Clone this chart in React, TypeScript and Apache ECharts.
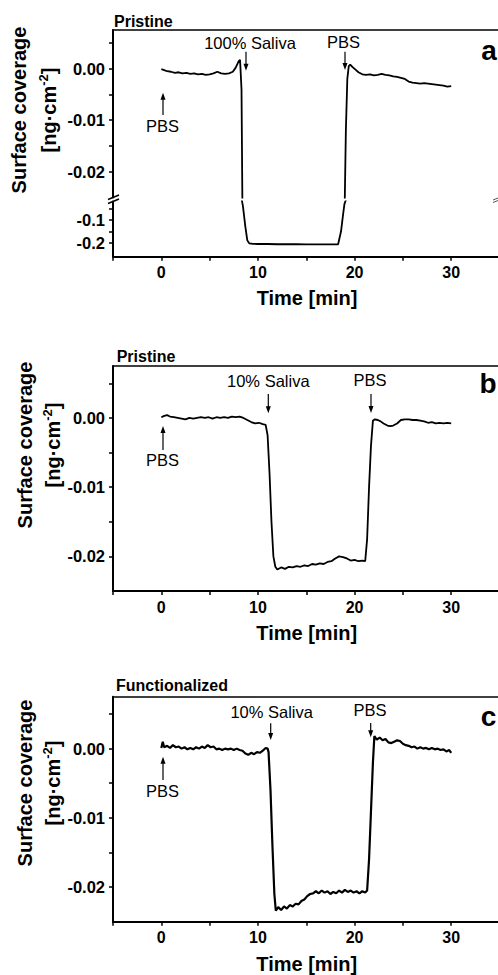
import React, { useEffect, useRef } from 'react';
import * as echarts from 'echarts';

// ---------- data ----------
const timeA = [0.0, 0.3, 0.6, 1.0, 1.4, 1.8, 2.2, 2.6, 3.0, 3.4, 3.8, 4.2, 4.6, 5.0, 5.4, 5.8, 6.2, 6.6, 7.0, 7.4, 7.7, 8.0, 8.15, 8.3, 8.45, 8.7, 8.9, 9.1, 9.5, 10, 11, 12, 13, 14, 15, 16, 17, 18, 18.3, 18.6, 18.8, 18.95, 19.1, 19.25, 19.4, 19.55, 19.8, 20.1, 20.4, 20.8, 21.2, 21.6, 22.0, 22.4, 22.8, 23.2, 23.6, 24.0, 24.4, 24.8, 25.2, 25.6, 26.0, 26.4, 26.8, 27.2, 27.6, 28.0, 28.4, 28.8, 29.2, 29.6, 30.0];
const coverageA = [-0.0001, -0.0003, -0.0005, -0.0006, -0.0008, -0.0007, -0.0009, -0.0008, -0.001, -0.0009, -0.0011, -0.001, -0.0012, -0.0011, -0.0009, -0.0006, -0.0009, -0.001, -0.0009, -0.0006, 0.0002, 0.0014, 0.0017, -0.004, -0.04, -0.13, -0.19, -0.203, -0.205, -0.206, -0.206, -0.207, -0.207, -0.207, -0.208, -0.208, -0.208, -0.208, -0.207, -0.15, -0.08, -0.03, -0.012, -0.002, 0.0005, 0.0008, 0.0003, -0.0002, -0.0007, -0.0011, -0.0012, -0.0011, -0.0013, -0.0012, -0.001, -0.0012, -0.0013, -0.0015, -0.0016, -0.0018, -0.002, -0.0025, -0.0027, -0.0028, -0.0029, -0.0028, -0.0029, -0.003, -0.0031, -0.0032, -0.0033, -0.0035, -0.0034];

const timeB = [0.0, 0.3, 0.6, 0.9, 1.3, 1.7, 2.1, 2.5, 2.9, 3.3, 3.7, 4.1, 4.5, 4.9, 5.3, 5.7, 6.1, 6.5, 6.9, 7.3, 7.7, 8.1, 8.5, 8.9, 9.3, 9.7, 10.1, 10.5, 10.8, 11.0, 11.2, 11.4, 11.6, 11.8, 12.0, 12.4, 12.8, 13.2, 13.6, 14.0, 14.4, 14.8, 15.2, 15.6, 16.0, 16.4, 16.8, 17.2, 17.6, 18.0, 18.4, 18.8, 19.2, 19.6, 20.0, 20.4, 20.8, 21.1, 21.3, 21.5, 21.7, 21.9, 22.1, 22.4, 22.7, 23.0, 23.4, 23.7, 24.0, 24.4, 24.8, 25.2, 25.6, 26.0, 26.4, 26.8, 27.2, 27.6, 28.0, 28.4, 28.8, 29.2, 29.6, 30.0];
const coverageB = [0.0001, 0.0003, 0.0004, 0.0002, 0.0001, 0.0, -0.0001, -0.0002, 0.0, -0.0001, 0.0, 0.0001, 0.0, 0.0001, -0.0001, 0.0001, 0.0, 0.0001, 0.0, 0.0002, 0.0001, 0.0002, 0.0, -0.0003, -0.0006, -0.0008, -0.0007, -0.0009, -0.001, -0.0025, -0.008, -0.015, -0.02, -0.0215, -0.0219, -0.0216, -0.0218, -0.0215, -0.0216, -0.0214, -0.0215, -0.0213, -0.0214, -0.0211, -0.0212, -0.021, -0.0211, -0.0208, -0.0207, -0.0203, -0.02, -0.0201, -0.0203, -0.0206, -0.0205, -0.0207, -0.0206, -0.0207, -0.0175, -0.01, -0.004, -0.0004, -0.0002, -0.0003, -0.0005, -0.0008, -0.0011, -0.0012, -0.0011, -0.0008, -0.0003, -0.0002, -0.0002, -0.0003, -0.0003, -0.0004, -0.0005, -0.0007, -0.0006, -0.0008, -0.0007, -0.0008, -0.0007, -0.0008];

const timeC = [0.0, 0.15, 0.3, 0.6, 0.9, 1.2, 1.5, 1.8, 2.1, 2.4, 2.7, 3.0, 3.3, 3.6, 3.9, 4.2, 4.5, 4.8, 5.1, 5.4, 5.7, 6.0, 6.3, 6.6, 6.9, 7.2, 7.5, 7.8, 8.1, 8.4, 8.7, 9.0, 9.3, 9.6, 9.9, 10.2, 10.5, 10.8, 11.0, 11.1, 11.3, 11.5, 11.7, 11.85, 12.1, 12.4, 12.7, 13.0, 13.3, 13.6, 13.9, 14.2, 14.5, 14.8, 15.1, 15.4, 15.7, 16.0, 16.3, 16.6, 16.9, 17.2, 17.5, 17.8, 18.1, 18.4, 18.7, 19.0, 19.3, 19.6, 19.9, 20.2, 20.5, 20.8, 21.1, 21.3, 21.5, 21.7, 21.9, 22.05, 22.3, 22.6, 22.9, 23.2, 23.5, 23.8, 24.1, 24.4, 24.7, 25.0, 25.3, 25.6, 25.9, 26.2, 26.5, 26.8, 27.1, 27.4, 27.7, 28.0, 28.3, 28.6, 28.9, 29.2, 29.5, 29.8, 30.0];
const coverageC = [0.0001, 0.001, 0.0002, 0.0004, 0.0001, 0.0005, 0.0002, 0.0003, 0.0, 0.0002, -0.0001, 0.0001, -0.0001, 0.0002, 0.0, 0.0003, 0.0001, 0.0005, 0.0002, 0.0003, -0.0001, 0.0, -0.0002, 0.0, -0.0001, 0.0, -0.0002, 0.0, -0.0002, -0.0003, -0.0007, -0.0009, -0.0006, -0.0008, -0.0005, -0.0006, -0.0003, 0.0001, 0.0, -0.0005, -0.006, -0.014, -0.021, -0.0234, -0.0229, -0.0233, -0.0228, -0.0231, -0.0226, -0.0228, -0.0224, -0.0225, -0.022, -0.0218, -0.0213, -0.021, -0.0209, -0.0206, -0.0209, -0.0205, -0.0208, -0.0206, -0.021, -0.0207, -0.0209, -0.0205, -0.0208, -0.0204, -0.0207, -0.0205, -0.0208, -0.0206, -0.0209, -0.0206, -0.0208, -0.0205, -0.016, -0.009, -0.002, 0.0018, 0.0013, 0.0016, 0.0012, 0.0014, 0.0009, 0.0008, 0.001, 0.0012, 0.0011, 0.0007, 0.0005, 0.0004, 0.0002, 0.0003, 0.0, 0.0002, 0.0, 0.0001, -0.0001, 0.0001, -0.0001, 0.0, -0.0002, -0.0001, -0.0004, -0.0002, -0.0006];

const xTickLabels = [0, 10, 20, 30];
const yUpperTicks = [0.005, 0, -0.005, -0.01, -0.015, -0.02];
const yUpperLabels = [0, -0.01, -0.02];
const yLowerTicks = [-0.05, -0.1, -0.15, -0.2];
const yLowerLabels = [-0.1, -0.2];

const panelTitles = ['Pristine', 'Pristine', 'Functionalized'];
const panelLetters = ['a', 'b', 'c'];
const salivaLabels = ['100% Saliva', '10% Saliva', '10% Saliva'];

// ---------- styles ----------
const FONT = "'Liberation Sans', Arial, sans-serif";
const BLACK = '#000';

const pairs = (t: number[], v: number[]) => t.map((x, i) => [x, v[i]]);

function xAxisBottom(gridIndex: number, show = true) {
  return {
    type: 'value',
    gridIndex,
    show,
    position: 'bottom',
    min: -5,
    max: 35,
    interval: 5,
    axisLine: { show: true, onZero: false, lineStyle: { color: BLACK, width: 2 } },
    axisTick: { show: true, inside: false, length: 4, lineStyle: { color: BLACK, width: 1.5 } },
    axisLabel: {
      show: true,
      margin: 8,
      color: BLACK,
      fontFamily: FONT,
      fontWeight: 'bold',
      fontSize: 16,
      formatter: (v: number) => (xTickLabels.indexOf(v) >= 0 ? String(v) : ''),
    },
    splitLine: { show: false },
  };
}

function xAxisTop(gridIndex: number) {
  return {
    type: 'value',
    gridIndex,
    position: 'top',
    min: -5,
    max: 35,
    axisLine: { show: true, onZero: false, lineStyle: { color: BLACK, width: 1.5 } },
    axisTick: { show: false },
    axisLabel: { show: false },
    splitLine: { show: false },
  };
}

function yAxis(gridIndex: number, min: number, max: number, ticks: number[], labels: number[], digits: number) {
  return {
    type: 'value',
    gridIndex,
    min,
    max,
    axisLine: { show: true, onZero: false, lineStyle: { color: BLACK, width: 2 } },
    axisTick: { show: true, inside: false, length: 4, customValues: ticks, lineStyle: { color: BLACK, width: 1.5 } },
    axisLabel: {
      show: true,
      customValues: labels,
      margin: 8,
      color: BLACK,
      fontFamily: FONT,
      fontWeight: 'bold',
      fontSize: 16.5,
      formatter: (v: number) => v.toFixed(digits),
    },
    splitLine: { show: false },
  };
}

function txt(text: string, x: number, y: number, size: number, weight: string, align = 'center', extra: any = {}) {
  return {
    type: 'text',
    x,
    y,
    silent: true,
    ...extra,
    style: {
      text,
      fill: BLACK,
      fontFamily: FONT,
      fontSize: size,
      fontWeight: weight,
      align,
      verticalAlign: 'middle',
    },
  };
}

function arrow(x: number, y1: number, y2: number) {
  // y2 is the tip
  const dir = y2 > y1 ? 1 : -1;
  return [
    { type: 'line', silent: true, shape: { x1: x, y1, x2: x, y2: y2 - dir * 3 }, style: { stroke: BLACK, lineWidth: 1.2 } },
    {
      type: 'polygon',
      silent: true,
      shape: { points: [[x - 2.5, y2 - dir * 7], [x + 2.5, y2 - dir * 7], [x, y2]] },
      style: { fill: BLACK },
    },
  ];
}

function yName(x1: number, x2: number, y: number) {
  return [
    txt('Surface coverage', x1, y, 20, 'bold', 'center', { rotation: Math.PI / 2 }),
    {
      type: 'text',
      x: x2,
      y,
      rotation: Math.PI / 2,
      silent: true,
      style: {
        text: '{m|[ng·cm}{s|-2}{m|]}',
        align: 'center',
        verticalAlign: 'middle',
        fill: BLACK,
        rich: {
          m: { fontFamily: FONT, fontWeight: 'bold', fontSize: 20, lineHeight: 24, fill: BLACK },
          s: { fontFamily: FONT, fontWeight: 'bold', fontSize: 13, lineHeight: 13, verticalAlign: 'top', fill: BLACK },
        },
      },
    },
  ];
}

export default function App() {
  const ref = useRef<HTMLDivElement>(null);

  useEffect(() => {
    if (!ref.current) return;
    const chart = echarts.init(ref.current, undefined, { renderer: 'svg' });

    const gridBase = { left: 113, right: -1.5, containLabel: false, outerBoundsMode: 'none', show: false };
    const lineSeries = (xi: number, yi: number, data: number[][], w: number) => ({
      type: 'line',
      xAxisIndex: xi,
      yAxisIndex: yi,
      data,
      symbol: 'none',
      clip: true,
      smooth: false,
      lineStyle: { color: BLACK, width: w },
      itemStyle: { color: BLACK },
      silent: true,
    });

    const dataA = pairs(timeA, coverageA);
    const dataB = pairs(timeB, coverageB);
    const dataC = pairs(timeC, coverageC);

    const graphics: any[] = [
      // panel a
      txt(panelTitles[0], 114, 21.7, 16, 'bold', 'left'),
      txt(salivaLabels[0], 250, 43.3, 16.5, 'normal'),
      txt('PBS', 343.5, 42.3, 16.5, 'normal'),
      txt('PBS', 162.5, 125.7, 16.5, 'normal'),
      txt(panelLetters[0], 489, 50, 28, 'bold'),
      ...arrow(246, 51.7, 70.7),
      ...arrow(345, 51.7, 70),
      ...arrow(163, 115, 92.7),
      txt('Time [min]', 307, 297.7, 20, 'bold'),
      ...yName(19, 48.5, 110),
      // axis break marks (left)
      { type: 'rect', silent: true, shape: { x: 105, y: 197.6, width: 16, height: 3.8 }, style: { fill: '#fff' } },
      { type: 'line', silent: true, shape: { x1: 108, y1: 199.5, x2: 119, y2: 195 }, style: { stroke: BLACK, lineWidth: 1.5 } },
      { type: 'line', silent: true, shape: { x1: 108, y1: 203.5, x2: 119, y2: 199 }, style: { stroke: BLACK, lineWidth: 1.5 } },
      // axis break marks (right edge)
      { type: 'line', silent: true, shape: { x1: 493, y1: 200, x2: 498, y2: 198 }, style: { stroke: '#555', lineWidth: 1 } },
      { type: 'line', silent: true, shape: { x1: 493, y1: 202.5, x2: 498, y2: 200.5 }, style: { stroke: '#555', lineWidth: 1 } },
      // panel b
      txt(panelTitles[1], 116.7, 356.7, 16, 'bold', 'left'),
      txt(salivaLabels[1], 268.3, 381, 16.5, 'normal'),
      txt('PBS', 370, 380, 16.5, 'normal'),
      txt('PBS', 162.5, 460, 16.5, 'normal'),
      txt(panelLetters[1], 488, 383, 28, 'bold'),
      ...arrow(268.3, 394, 413.3),
      ...arrow(371, 394, 413),
      ...arrow(163, 450, 426),
      txt('Time [min]', 306.7, 633.3, 20, 'bold'),
      ...yName(25, 53, 445),
      // panel c
      txt(panelTitles[2], 116, 685, 16, 'bold', 'left'),
      txt(salivaLabels[2], 271.7, 711.7, 16.5, 'normal'),
      txt('PBS', 370, 710, 16.5, 'normal'),
      txt('PBS', 162.5, 790.7, 16.5, 'normal'),
      txt(panelLetters[2], 488.5, 716, 28, 'bold'),
      ...arrow(270.7, 723.3, 740),
      ...arrow(370.7, 723, 737.3),
      ...arrow(163, 780, 756.7),
      txt('Time [min]', 306.7, 964.3, 20, 'bold'),
      ...yName(25, 53, 783),
    ];

    chart.setOption({
      animation: false,
      backgroundColor: '#fff',
      tooltip: { show: false },
      grid: [
        { ...gridBase, top: 30, height: 167.5 },
        { ...gridBase, top: 201.5, height: 55.2 },
        { ...gridBase, top: 366, height: 225 },
        { ...gridBase, top: 696.7, height: 225 },
      ],
      xAxis: [
        xAxisBottom(0, false),
        xAxisBottom(1),
        xAxisBottom(2),
        xAxisBottom(3),
        xAxisTop(0),
        xAxisTop(2),
        xAxisTop(3),
      ],
      yAxis: [
        yAxis(0, -0.025, 0.0075, yUpperTicks, yUpperLabels, 2),
        yAxis(1, -0.262, -0.0185, yLowerTicks, yLowerLabels, 1),
        yAxis(2, -0.025, 0.0075, yUpperTicks, yUpperLabels, 2),
        yAxis(3, -0.025, 0.0075, yUpperTicks, yUpperLabels, 2),
      ],
      series: [
        lineSeries(0, 0, dataA, 1.8),
        lineSeries(1, 1, dataA, 1.8),
        lineSeries(2, 2, dataB, 1.8),
        lineSeries(3, 3, dataC, 2.2),
      ],
      graphic: graphics,
    });

    return () => chart.dispose();
  }, []);

  return (
    <div
      ref={ref}
      style={{ position: 'absolute', left: 0, top: 0, width: 498, height: 975, background: '#fff' }}
    />
  );
}
